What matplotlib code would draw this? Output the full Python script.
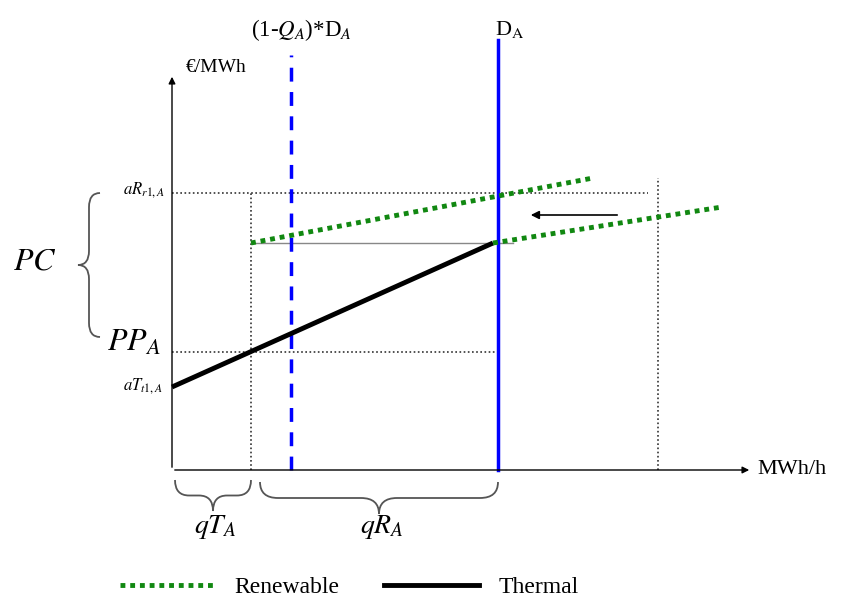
import matplotlib
matplotlib.use('Agg')
import matplotlib.pyplot as plt
from matplotlib.path import Path
from matplotlib.patches import PathPatch
from matplotlib.lines import Line2D

plt.rcParams['font.family'] = ['Liberation Serif', 'DejaVu Serif']
plt.rcParams['mathtext.fontset'] = 'stix'

# schematic values (x in MWh/h, y in EUR/MWh, arbitrary units)
q_thermal = 79          # qT_A
q_quota = 119           # (1-Q_A)*D_A
demand = 326            # D_A
q_old = 486             # old renewable capacity end
price_aR = 277          # aR_r1,A
price_PP = 118          # PP_A
price_kink = 227
thermal_x = [0, 321]
thermal_y = [83, 227]
renew_new_x = [79, 421]
renew_new_y = [227, 292]
renew_old_x = [321, 550]
renew_old_y = [227, 263]

fig = plt.figure(figsize=(8.43, 6.01), dpi=100)
ax = fig.add_axes([0, 0, 1, 1])
ax.set_xlim(-172, 671)
ax.set_ylim(-131, 470)
ax.axis('off')

dot = dict(color='#333333', lw=1.2, linestyle=(0, (1, 1.5)))

# axes with arrows
ax.annotate('', xy=(0, 396), xytext=(0, 0),
            arrowprops=dict(arrowstyle='-|>', color='black', lw=1, mutation_scale=10))
ax.annotate('', xy=(580, 0), xytext=(0, 0),
            arrowprops=dict(arrowstyle='-|>', color='black', lw=1, mutation_scale=10))
ax.text(44, 402, '€/MWh', ha='center', va='center', fontsize=14)
ax.text(585, 0, 'MWh/h', ha='left', va='center', fontsize=16)

# guide lines
ax.plot([0, 476], [price_aR, price_aR], **dot)
ax.plot([0, demand], [price_PP, price_PP], **dot)
ax.plot([q_thermal, q_thermal], [0, price_aR], **dot)
ax.plot([q_old, q_old], [0, 292], **dot)
ax.plot([q_thermal, 341], [price_kink, price_kink], color='#888888', lw=1)

# demand lines
ax.plot([q_quota, q_quota], [0, 415], color='#0000ff', lw=2.5, linestyle=(0, (4, 3)))
ax.plot([demand, demand], [0, 430], color='#0000ff', lw=2.5)
ax.text(129, 440, r'(1-$Q_A$)*D$_A$', ha='center', va='center', fontsize=16.5)
ax.text(338, 440, r'D$_\mathrm{A}$', ha='center', va='center', fontsize=16)

# supply curves
ax.plot(thermal_x, thermal_y, color='black', lw=3.5, solid_capstyle='butt', label='Thermal')
ax.plot(renew_new_x, renew_new_y, color='#118811', lw=3.5, linestyle=(0, (1, 1)),
        label='Renewable')
ax.plot(renew_old_x, renew_old_y, color='#118811', lw=3.5, linestyle=(0, (1, 1)))

# shift arrow
ax.annotate('', xy=(356, 255), xytext=(448, 255),
            arrowprops=dict(arrowstyle='-|>', color='black', lw=1.2, mutation_scale=12))

# price labels
ax.text(-7, 280, r'$aR_{r1,A}$', ha='right', va='center', fontsize=12)
ax.text(-9, 84, r'$aT_{t1,A}$', ha='right', va='center', fontsize=12)
ax.text(-65, 127, r'$PP_A$', ha='left', va='center', fontsize=23)
ax.text(-159, 208, r'$PC$', ha='left', va='center', fontsize=23)


def brace(a, b, base, h, q, vertical=False):
    if b < a:
        a, b = b, a
    m = (a + b) / 2
    mid = base + h / 2
    pts = [(a, base), (a, mid), (a + q, mid), (m - q, mid), (m, mid), (m, base + h),
           (m, mid), (m + q, mid), (b - q, mid), (b, mid), (b, base)]
    codes = [Path.MOVETO, Path.CURVE3, Path.CURVE3, Path.LINETO, Path.CURVE3, Path.CURVE3,
             Path.CURVE3, Path.CURVE3, Path.LINETO, Path.CURVE3, Path.CURVE3]
    if vertical:
        pts = [(y, x) for x, y in pts]
    ax.add_patch(PathPatch(Path(pts, codes), fill=False, edgecolor='#555555', lw=1.3))


brace(price_aR, 133, -72, -22, 14, vertical=True)
brace(3, q_thermal, -10, -31, 14)
brace(88, demand, -12, -32, 18)
ax.text(43, -57, r'$qT_A$', ha='center', va='center', fontsize=20)
ax.text(210, -57, r'$qR_A$', ha='center', va='center', fontsize=20)

handles = [Line2D([], [], color='#118811', lw=3.5, linestyle=(0, (1, 1))),
           Line2D([], [], color='black', lw=3.5)]
ax.legend(handles, ['Renewable', 'Thermal'], loc='center left', ncol=2,
          bbox_to_anchor=(120 / 843, 14 / 601), frameon=False, fontsize=17,
          handlelength=4, handletextpad=0.85, columnspacing=1.9,
          borderpad=0, borderaxespad=0)

fig.savefig('out.png', dpi=100)
